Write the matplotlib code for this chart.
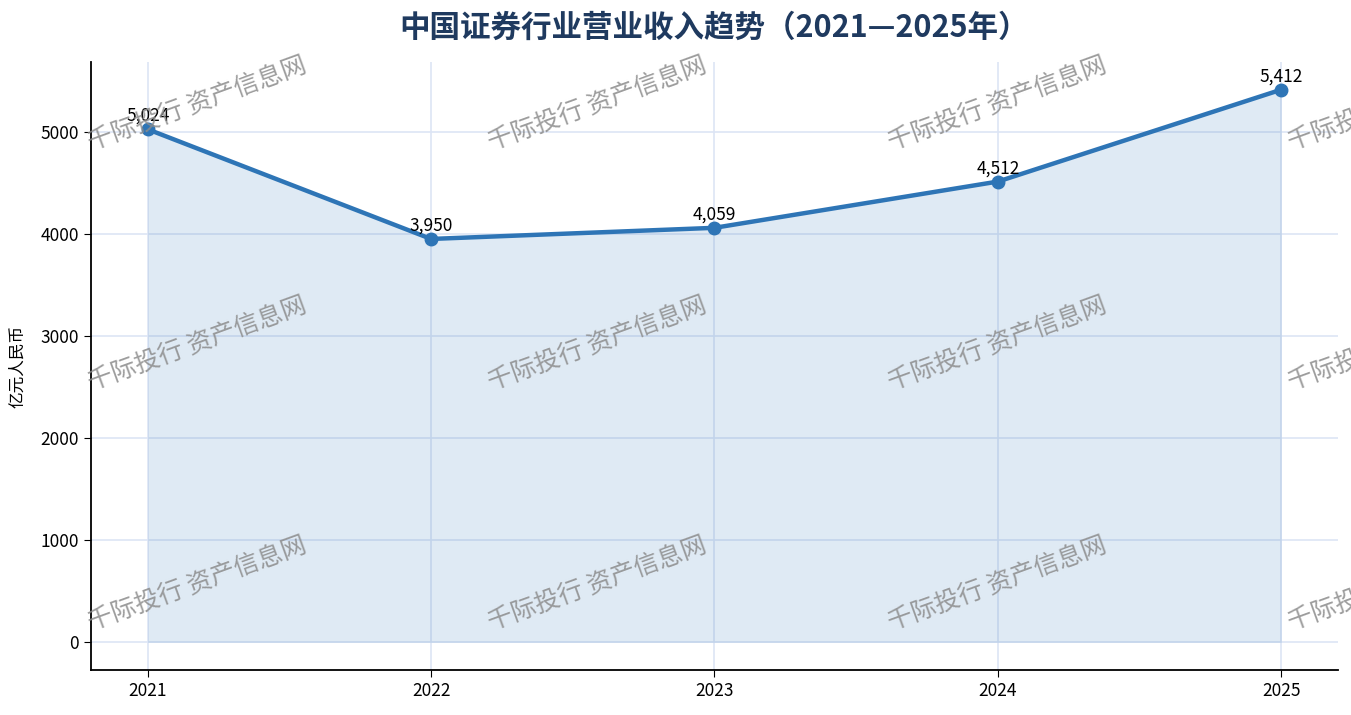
import matplotlib
matplotlib.use("Agg")
import matplotlib.pyplot as plt

plt.rcParams['font.family'] = ['Noto Sans CJK SC', 'DejaVu Sans']
plt.rcParams['axes.unicode_minus'] = False

years = [2021, 2022, 2023, 2024, 2025]
revenue = [5024, 3950, 4059, 4512, 5412]
title = "中国证券行业营业收入趋势（2021—2025年）"
ylabel = "亿元人民币"
watermark = "千际投行 资产信息网"

line_color = "#2e75b6"

fig = plt.figure(figsize=(13.51, 7.15), dpi=100)
ax = fig.add_axes([91 / 1351, 1 - 670 / 715, (1338 - 91) / 1351, (670 - 62) / 715])

ax.fill_between(years, revenue, 0, color=line_color, alpha=0.15, linewidth=0, zorder=1)
ax.plot(years, revenue, color=line_color, linewidth=3.2, marker="o", markersize=9, zorder=3)

for x, y in zip(years, revenue):
    ax.annotate(f"{y:,}", (x, y), xytext=(0, 3), textcoords="offset points",
                ha="center", va="bottom", fontsize=12.5, color="black", zorder=4)

ax.set_xticks(years)
ax.set_xticklabels([str(y) for y in years])
ax.tick_params(labelsize=12.5, length=5)
ax.set_ylabel(ylabel, fontsize=12)
ax.yaxis.set_label_coords(-0.052, 0.5)
ax.grid(True, color="#dde5f5", linewidth=1.2, zorder=0)
ax.set_axisbelow(True)
for s in ["top", "right"]:
    ax.spines[s].set_visible(False)
ax.spines["left"].set_linewidth(1.3)
ax.spines["bottom"].set_linewidth(1.3)

fig.text((91 + 1338) / 2 / 1351, 1 - 28 / 715, title, ha="center", va="center",
         fontsize=22, fontweight="bold", color="#1f3a5f")

# watermark grid
for cx in [91, 491, 891, 1291]:
    for cy in [150, 390, 630]:
        fig.text(cx / 1351, 1 - cy / 715, watermark, rotation=20, rotation_mode="anchor",
                 ha="left", va="baseline", fontsize=18, color="#8c8c8c", alpha=0.85, zorder=10)

fig.savefig("out.png", dpi=100)
